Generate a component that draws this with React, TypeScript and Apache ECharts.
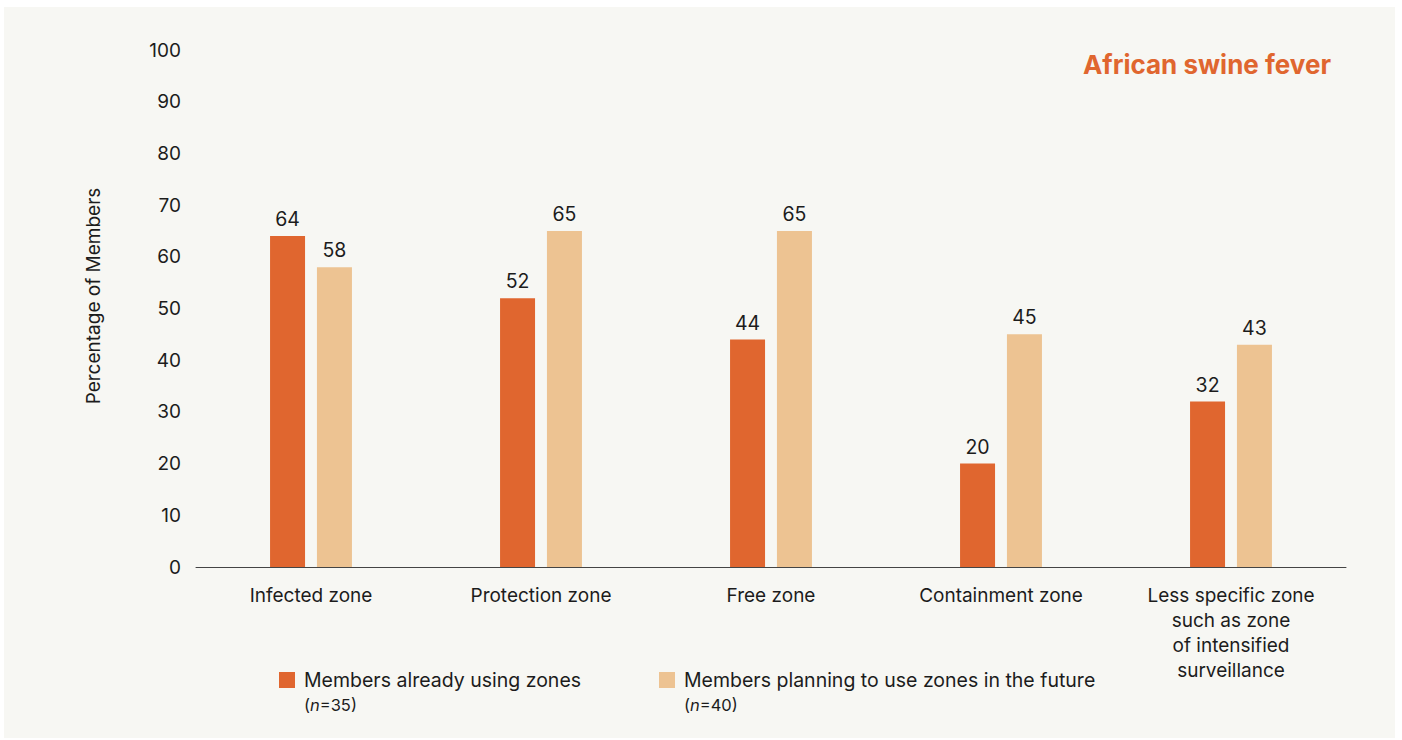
import React, { useEffect, useRef } from "react";
import * as echarts from "echarts";

const categories = [
  "Infected zone",
  "Protection zone",
  "Free zone",
  "Containment zone",
  "Less specific zone\nsuch as zone\nof intensified\nsurveillance",
];
const alreadyUsing = [64, 52, 44, 20, 32];
const planning = [58, 65, 65, 45, 43];
const seriesNames = ["Members already using zones", "Members planning to use zones in the future"];
const seriesN = ["35", "40"];
const yTicks = { min: 0, max: 100, interval: 10 };
const title = "African swine fever";
const yName = "Percentage of Members";

const ORANGE = "#e0662f";
const BEIGE = "#edc392";
const TEXT = "#1c1c1c";
const FONT = "Inter, 'Noto Sans', sans-serif";

export default function App() {
  const ref = useRef<HTMLDivElement>(null);
  useEffect(() => {
    if (!ref.current) return;
    const chart = echarts.init(ref.current, undefined, { renderer: "svg" });
    const legendItem = (x: number, color: string, name: string, n: string) => ({
      type: "group",
      children: [
        { type: "rect", shape: { x, y: 672, width: 16, height: 16 }, style: { fill: color } },
        {
          type: "text",
          x: x + 25,
          y: 680,
          style: { text: name, fontSize: 19.5, fontFamily: FONT, fill: TEXT, verticalAlign: "middle" },
        },
        {
          type: "text",
          x: x + 25,
          y: 705,
          style: {
            text: "(" + "{i|n}" + "=" + n + ")",
            fontSize: 16.5,
            fontFamily: FONT,
            fill: TEXT,
            verticalAlign: "middle",
            rich: { i: { fontStyle: "italic", fontSize: 16.5, fontFamily: FONT, fill: TEXT } },
          },
        },
      ],
    });
    chart.setOption({
      animation: false,
      backgroundColor: "#ffffff",
      textStyle: { fontFamily: FONT },
      graphic: [
        {
          type: "rect",
          z: -10,
          shape: { x: 4, y: 7, width: 1391, height: 731 },
          style: { fill: "#f7f7f3" },
        },
        {
          type: "text",
          right: 71,
          top: 51,
          style: { text: title, fontSize: 26, fontWeight: "bold", fontFamily: FONT, fill: ORANGE },
        },
        {
          type: "text",
          x: 93,
          y: 296,
          rotation: Math.PI / 2,
          style: {
            text: yName,
            fontSize: 19,
            fontFamily: FONT,
            fill: TEXT,
            align: "center",
            verticalAlign: "middle",
          },
        },
        legendItem(279, ORANGE, seriesNames[0], seriesN[0]),
        legendItem(659, BEIGE, seriesNames[1], seriesN[1]),
      ],
      grid: { left: 196, right: 56, top: 50, bottom: 173 },
      xAxis: {
        type: "category",
        data: categories,
        axisLine: { show: true, lineStyle: { color: "#444", width: 1 } },
        axisTick: { show: false },
        axisLabel: {
          color: TEXT,
          fontSize: 19,
          fontFamily: FONT,
          margin: 16,
          lineHeight: 25,
          interval: 0,
        },
      },
      yAxis: {
        type: "value",
        min: yTicks.min,
        max: yTicks.max,
        interval: yTicks.interval,
        axisLine: { show: false },
        axisTick: { show: false },
        splitLine: { show: false },
        axisLabel: { color: TEXT, fontSize: 19, fontFamily: FONT, margin: 15 },
      },
      series: [
        {
          name: seriesNames[0],
          type: "bar",
          data: alreadyUsing,
          barWidth: 35,
          barGap: "34%",
          itemStyle: { color: ORANGE },
          label: { show: true, position: "top", distance: 7, color: TEXT, fontSize: 19.5, fontFamily: FONT },
        },
        {
          name: seriesNames[1],
          type: "bar",
          data: planning,
          barWidth: 35,
          itemStyle: { color: BEIGE },
          label: { show: true, position: "top", distance: 7, color: TEXT, fontSize: 19.5, fontFamily: FONT },
        },
      ],
    });
    return () => chart.dispose();
  }, []);
  return (
    <div style={{ position: "fixed", left: 0, top: 0, width: 1402, height: 740 }}>
      <div ref={ref} style={{ width: 1402, height: 740 }} />
    </div>
  );
}
